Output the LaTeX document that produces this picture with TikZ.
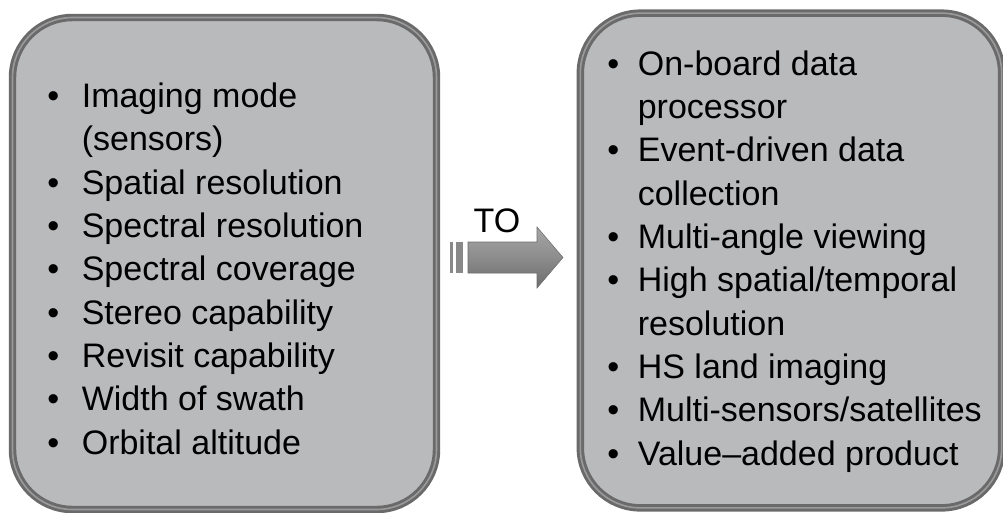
\documentclass[tikz,border=0pt]{standalone}
\usepackage{fontspec}
\setmainfont{Liberation Sans}
\usetikzlibrary{positioning}
\definecolor{boxgray}{HTML}{B9BABC}
\definecolor{boxedge}{HTML}{6A6A6A}
\definecolor{boxrim}{HTML}{9A9A9C}
\definecolor{arrowlight}{HTML}{A6A6A6}
\definecolor{arrowdark}{HTML}{6C6C6C}

\begin{document}
\begin{tikzpicture}[
    x=0.75pt, y=-0.75pt,
    font={\fontsize{25.5}{32.5}\selectfont},
    listbox/.style={draw=boxedge, line width=2.2pt, fill=boxgray, rounded corners=45pt, inner sep=0pt,
        double=boxrim, double distance=1.2pt},
    listtext/.style={anchor=west, inner sep=0pt, align=left},
    arrowbody/.style={draw=arrowdark, line width=0.4pt, top color=arrowlight, bottom color=arrowdark, middle color=arrowgray}
]
\colorlet{arrowgray}{black!45}
\useasboundingbox (0,0) rectangle (1003,512);

% 1. Die beiden Kaesten
\node[listbox, minimum width=318pt, minimum height=369pt] (oldbox) at (224.5,263.5) {};
\node[listbox, minimum width=316pt, minimum height=371pt] (newbox) at (791,260.5) {};

% 2. Listen in den Kaesten
\node[listtext] (oldlist) at (47,272) {%
\begin{tabular}{@{}l@{\hspace{17pt}}l@{}}
\textbullet & Imaging mode\\
            & (sensors)\\
\textbullet & Spatial resolution\\
\textbullet & Spectral resolution\\
\textbullet & Spectral coverage\\
\textbullet & Stereo capability\\
\textbullet & Revisit capability\\
\textbullet & Width of swath\\
\textbullet & Orbital altitude
\end{tabular}};

\node[listtext] (newlist) at (607,261.5) {%
\begin{tabular}{@{}l@{\hspace{14pt}}l@{}}
\textbullet & On-board data\\
            & processor\\
\textbullet & Event-driven data\\
            & collection\\
\textbullet & Multi-angle viewing\\
\textbullet & High spatial/temporal\\
            & resolution\\
\textbullet & HS land imaging\\
\textbullet & Multi-sensors/satellites\\
\textbullet & Value--added product
\end{tabular}};

% --- Blockpfeil zwischen den Kaesten ---
\fill[arrowdark!80] (450,242) rectangle (453,273);
\fill[arrowdark!80] (456,242) rectangle (463,273);
\draw[arrowbody] (468,242) -- (537,242) -- (537,227) -- (563,257.5) -- (537,288) -- (537,273) -- (468,273) -- cycle;
\node[inner sep=0pt] (tolabel) at (497,221) {TO};

\end{tikzpicture}
\end{document}
